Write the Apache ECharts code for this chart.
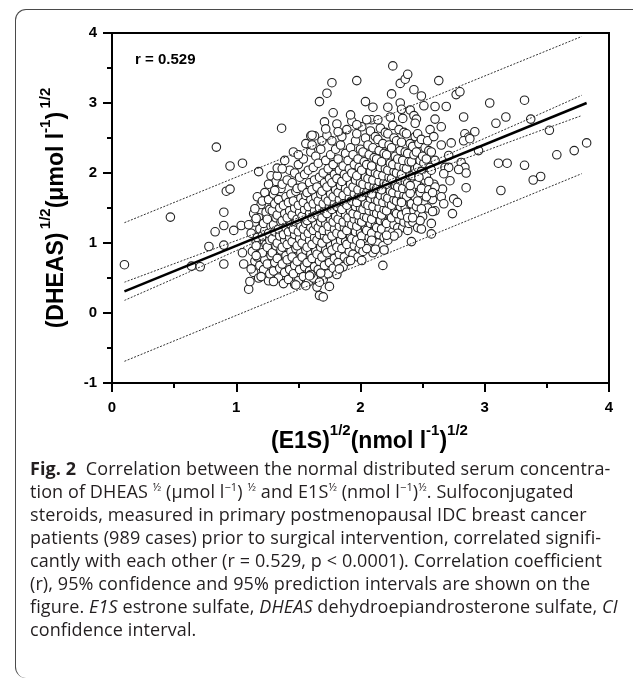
<!DOCTYPE html>
<html>
<head>
<meta charset="utf-8">
<script src="https://cdn.jsdelivr.net/npm/echarts@6/dist/echarts.min.js"></script>
<style>
  body { margin: 0; background: #fff; width: 633px; height: 685px; overflow: hidden; position: relative; }
  #frame { position: absolute; left: 15px; top: 9px; width: 640px; height: 668px;
           border-left: 1.5px solid #4a4a4a; border-top: 1.5px solid #4a4a4a;
           border-radius: 11px 0 0 11px; }
  #main { position: absolute; left: 0; top: 0; width: 633px; height: 458px; }
  #caption { position: absolute; left: 30px; top: 457px; font-family: "Open Sans", sans-serif;
             font-size: 18px; line-height: 23px; color: #231f20; white-space: nowrap; letter-spacing: 0.1px; }
  #caption b { font-weight: 700; }
  #caption sup { font-size: 11px; line-height: 0; }
</style>
</head>
<body>
<div id="frame"></div>
<div id="main"></div>
<div id="caption">
<div><b>Fig. 2</b>&nbsp; Correlation between the normal distributed serum concentra-</div>
<div>tion of DHEAS <sup>½</sup> (μmol l<sup>−1</sup>) <sup>½</sup> and E1S<sup>½</sup> (nmol l<sup>−1</sup>)<sup>½</sup>. Sulfoconjugated</div>
<div>steroids, measured in primary postmenopausal IDC breast cancer</div>
<div>patients (989 cases) prior to surgical intervention, correlated signifi-</div>
<div>cantly with each other (r = 0.529, p &lt; 0.0001). Correlation coefficient</div>
<div>(r), 95% confidence and 95% prediction intervals are shown on the</div>
<div>figure. <i>E1S</i> estrone sulfate, <i>DHEAS</i> dehydroepiandrosterone sulfate, <i>CI</i></div>
<div>confidence interval.</div>
</div>
<script>
// x = sqrt(E1S), y = sqrt(DHEAS)
const xTicks = [0, 1, 2, 3, 4];
const yTicks = [-1, 0, 1, 2, 3, 4];

// isolated points
const leftPoints = [[0.10,0.69],[0.47,1.37],[0.64,0.67],[0.71,0.66],[0.78,0.95],[0.84,2.37],[0.83,1.16],[0.90,1.44],[0.90,1.25],[0.90,0.97],[0.90,0.70],[0.92,1.74],[0.95,1.77],[0.95,2.10],[0.98,1.18],[1.04,1.25],[1.05,2.14],[1.05,0.86],[1.06,0.70],[1.10,1.26],[1.10,0.34],[1.11,0.45],[1.12,0.63],[1.15,1.49],[1.16,1.35],[1.16,0.96],[1.16,0.82],[1.18,2.02],[1.20,0.52],[1.26,1.84],[1.30,0.45],[1.31,1.75],[1.33,2.07],[1.37,2.06],[1.365,2.64],[1.47,0.41],[1.50,2.26]];
const topPoints = [[1.60,2.53],[1.63,2.53],[1.67,3.02],[1.73,3.14],[1.77,3.29],[1.97,3.32],[2.04,3.02],[2.10,2.94],[2.22,2.94],[2.25,3.13],[2.26,3.53],[2.32,3.28],[2.36,3.34],[2.38,3.41],[2.32,3.00],[2.33,2.91],[2.40,2.90],[2.43,3.19],[2.49,3.10],[2.51,2.96],[2.60,2.95],[2.63,3.32],[2.69,2.95],[2.77,3.12],[2.80,3.16],[1.78,2.86],[1.92,2.83],[2.05,2.76],[2.14,2.76],[1.71,2.73],[1.72,2.63],[1.82,2.59],[1.97,2.69],[1.61,2.54],[2.43,2.82],[2.45,2.77],[2.44,2.71],[2.60,2.77],[2.65,2.66]];
const rightPoints = [[2.83,2.80],[3.04,3.00],[3.32,3.04],[3.09,2.71],[3.17,2.80],[3.37,2.77],[3.52,2.61],[2.92,2.59],[2.84,2.56],[2.87,2.51],[2.83,2.46],[2.88,2.49],[2.73,2.43],[2.65,2.40],[2.95,2.32],[2.71,2.25],[3.58,2.26],[3.72,2.32],[3.82,2.43],[3.11,2.14],[3.18,2.14],[3.32,2.11],[2.81,2.15],[2.84,2.08],[2.85,2.00],[2.68,2.08],[2.71,2.08],[2.79,2.05],[3.45,1.95],[3.39,1.90],[3.13,1.75],[2.85,1.79],[2.72,1.89],[2.66,1.77],[2.65,1.66],[2.67,1.56],[2.75,1.63],[2.78,1.58],[2.74,1.42],[2.60,1.80],[2.60,1.46],[2.67,1.99]];
const bottomPoints = [[1.56,0.39],[1.65,0.37],[1.67,0.25],[1.70,0.23],[1.75,0.38],[1.60,0.55],[1.68,0.57],[1.67,0.44],[1.81,0.55],[1.83,0.63],[1.92,0.75],[2.01,0.75],[2.18,0.68],[2.19,0.90],[2.41,1.02],[2.57,1.13],[2.30,1.14],[2.27,1.10],[2.49,1.20],[2.57,1.28],[2.48,1.32],[2.38,1.36],[2.42,1.36],[2.49,1.49],[2.58,1.45],[2.53,1.66],[2.46,1.60],[2.33,1.58],[2.40,1.71],[2.40,1.82],[2.55,1.88],[2.47,1.94],[2.58,1.72],[2.05,0.92],[2.09,1.04],[2.12,0.91],[2.21,1.11],[2.00,0.99],[1.48,0.40],[1.59,0.53]];

// dense middle of the cloud (estimated)
const coreLow = [
[1.14,0.58],[1.15,0.74],[1.13,0.88],[1.16,1.02],[1.12,1.14],[1.15,1.30],[1.14,1.42],
[1.18,0.50],[1.19,0.68],[1.17,0.80],[1.20,0.93],[1.17,1.08],[1.19,1.20],[1.18,1.36],[1.20,1.55],[1.17,1.66],
[1.22,0.62],[1.23,0.76],[1.21,0.86],[1.24,0.98],[1.21,1.10],[1.23,1.18],[1.22,1.28],[1.24,1.44],[1.21,1.60],[1.23,1.72],
[1.26,0.46],[1.27,0.56],[1.25,0.70],[1.28,0.82],[1.25,0.94],[1.27,1.04],[1.26,1.14],[1.28,1.24],[1.25,1.34],[1.27,1.48],[1.26,1.62],[1.28,1.96],
[1.30,0.60],[1.31,0.72],[1.29,0.86],[1.32,0.96],[1.29,1.06],[1.31,1.16],[1.30,1.26],[1.32,1.36],[1.29,1.46],[1.31,1.56],[1.30,1.70],[1.32,1.88],
[1.34,0.50],[1.35,0.64],[1.33,0.78],[1.36,0.90],[1.33,1.00],[1.35,1.10],[1.34,1.20],[1.36,1.30],[1.33,1.40],[1.35,1.50],[1.34,1.62],[1.36,1.78],[1.33,1.96],
[1.38,0.42],[1.39,0.58],[1.37,0.70],[1.40,0.82],[1.37,0.94],[1.39,1.04],[1.38,1.12],[1.40,1.22],[1.37,1.32],[1.39,1.42],[1.38,1.54],[1.40,1.66],[1.37,1.84],[1.39,2.18],
[1.42,0.48],[1.43,0.62],[1.41,0.76],[1.44,0.88],[1.41,0.98],[1.43,1.08],[1.42,1.16],[1.44,1.26],[1.41,1.36],[1.43,1.46],[1.42,1.58],[1.44,1.70],[1.41,1.90],[1.43,2.04],
[1.46,0.56],[1.47,0.68],[1.45,0.80],[1.48,0.92],[1.45,1.02],[1.47,1.12],[1.46,1.20],[1.48,1.30],[1.45,1.40],[1.47,1.50],[1.46,1.60],[1.48,1.74],[1.45,1.86],[1.47,2.00],[1.46,2.30],
[1.50,0.46],[1.51,0.62],[1.49,0.74],[1.52,0.86],[1.49,0.96],[1.51,1.06],[1.50,1.16],[1.52,1.24],[1.49,1.34],[1.51,1.44],[1.50,1.54],[1.52,1.64],[1.49,1.78],[1.51,1.94],[1.50,2.12],
[1.54,0.52],[1.55,0.66],[1.53,0.80],[1.56,0.90],[1.53,1.00],[1.55,1.10],[1.54,1.20],[1.56,1.28],[1.53,1.38],[1.55,1.48],[1.54,1.58],[1.56,1.68],[1.53,1.80],[1.55,1.98],[1.54,2.20],[1.56,2.42],
[1.58,0.44],[1.59,0.60],[1.57,0.72],[1.60,0.84],[1.57,0.94],[1.59,1.04],[1.58,1.14],[1.60,1.22],[1.57,1.32],[1.59,1.42],[1.58,1.52],[1.60,1.62],[1.57,1.72],[1.59,1.86],[1.58,2.04],[1.60,2.30]
];
const coreMid = [
[1.62,0.50],[1.63,0.66],[1.61,0.78],[1.64,0.88],[1.61,0.98],[1.63,1.08],[1.62,1.18],[1.64,1.26],[1.61,1.36],[1.63,1.46],[1.62,1.56],[1.64,1.66],[1.61,1.76],[1.63,1.90],[1.62,2.08],[1.64,2.24],[1.61,2.40],
[1.66,0.62],[1.67,0.74],[1.65,0.84],[1.68,0.94],[1.65,1.04],[1.67,1.12],[1.66,1.22],[1.68,1.30],[1.65,1.40],[1.67,1.50],[1.66,1.60],[1.68,1.70],[1.65,1.80],[1.67,1.94],[1.66,2.14],[1.68,2.34],
[1.70,0.48],[1.71,0.68],[1.69,0.80],[1.72,0.90],[1.69,1.00],[1.71,1.10],[1.70,1.18],[1.72,1.28],[1.69,1.36],[1.71,1.46],[1.70,1.56],[1.72,1.64],[1.69,1.74],[1.71,1.86],[1.70,2.00],[1.72,2.18],[1.69,2.46],
[1.74,0.56],[1.75,0.72],[1.73,0.86],[1.76,0.96],[1.73,1.06],[1.75,1.16],[1.74,1.24],[1.76,1.34],[1.73,1.42],[1.75,1.52],[1.74,1.60],[1.76,1.70],[1.73,1.80],[1.75,1.92],[1.74,2.06],[1.76,2.26],[1.73,2.54],
[1.78,0.64],[1.79,0.78],[1.77,0.90],[1.80,1.00],[1.77,1.10],[1.79,1.20],[1.78,1.30],[1.80,1.38],[1.77,1.48],[1.79,1.56],[1.78,1.66],[1.80,1.76],[1.77,1.86],[1.79,1.98],[1.78,2.12],[1.80,2.34],[1.77,2.46],
[1.82,0.72],[1.83,0.84],[1.81,0.94],[1.84,1.04],[1.81,1.14],[1.83,1.24],[1.82,1.34],[1.84,1.44],[1.81,1.52],[1.83,1.62],[1.82,1.72],[1.84,1.82],[1.81,1.92],[1.83,2.04],[1.82,2.20],[1.84,2.40],[1.81,2.70],
[1.86,0.66],[1.87,0.80],[1.85,0.92],[1.88,1.02],[1.85,1.12],[1.87,1.22],[1.86,1.30],[1.88,1.40],[1.85,1.48],[1.87,1.58],[1.86,1.68],[1.88,1.78],[1.85,1.88],[1.87,1.98],[1.86,2.10],[1.88,2.28],[1.85,2.52],
[1.90,0.74],[1.91,0.88],[1.89,0.98],[1.92,1.08],[1.89,1.18],[1.91,1.28],[1.90,1.36],[1.92,1.46],[1.89,1.54],[1.91,1.64],[1.90,1.74],[1.92,1.84],[1.89,1.94],[1.91,2.06],[1.90,2.18],[1.92,2.36],[1.89,2.62],
[1.94,0.84],[1.95,0.96],[1.93,1.06],[1.96,1.16],[1.93,1.26],[1.95,1.34],[1.94,1.42],[1.96,1.52],[1.93,1.60],[1.95,1.70],[1.94,1.80],[1.96,1.90],[1.93,2.00],[1.95,2.12],[1.94,2.26],[1.96,2.46],[1.93,2.74],
[1.98,0.80],[1.99,0.92],[1.97,1.04],[2.00,1.14],[1.97,1.24],[1.99,1.32],[1.98,1.40],[2.00,1.50],[1.97,1.58],[1.99,1.68],[1.98,1.76],[2.00,1.86],[1.97,1.96],[1.99,2.08],[1.98,2.20],[2.00,2.34],[1.97,2.56],
[2.02,0.88],[2.03,1.00],[2.01,1.10],[2.04,1.20],[2.01,1.30],[2.03,1.38],[2.02,1.48],[2.04,1.56],[2.01,1.66],[2.03,1.74],[2.02,1.84],[2.04,1.94],[2.01,2.04],[2.03,2.16],[2.02,2.30],[2.04,2.50],[2.01,2.66],
[2.06,0.96],[2.07,1.08],[2.05,1.18],[2.08,1.28],[2.05,1.36],[2.07,1.46],[2.06,1.54],[2.08,1.64],[2.05,1.72],[2.07,1.82],[2.06,1.92],[2.08,2.02],[2.05,2.12],[2.07,2.26],[2.06,2.40],[2.08,2.60]
];
const coreHigh = [
[2.10,0.86],[2.11,1.02],[2.09,1.14],[2.12,1.24],[2.09,1.34],[2.11,1.44],[2.10,1.52],[2.12,1.62],[2.09,1.70],[2.11,1.80],[2.10,1.90],[2.12,2.00],[2.09,2.10],[2.11,2.22],[2.10,2.36],[2.12,2.52],[2.09,2.76],
[2.14,1.00],[2.15,1.12],[2.13,1.22],[2.16,1.32],[2.13,1.42],[2.15,1.50],[2.14,1.60],[2.16,1.68],[2.13,1.78],[2.15,1.88],[2.14,1.98],[2.16,2.08],[2.13,2.20],[2.15,2.32],[2.14,2.48],[2.16,2.64],
[2.18,0.96],[2.19,1.08],[2.17,1.20],[2.20,1.30],[2.17,1.40],[2.19,1.48],[2.18,1.58],[2.20,1.66],[2.17,1.76],[2.19,1.86],[2.18,1.96],[2.20,2.06],[2.17,2.16],[2.19,2.28],[2.18,2.42],[2.20,2.58],
[2.22,1.04],[2.23,1.18],[2.21,1.28],[2.24,1.38],[2.21,1.46],[2.23,1.56],[2.22,1.64],[2.24,1.74],[2.21,1.84],[2.23,1.94],[2.22,2.04],[2.24,2.14],[2.21,2.26],[2.23,2.40],[2.22,2.56],[2.24,2.80],
[2.26,1.16],[2.27,1.26],[2.25,1.36],[2.28,1.44],[2.25,1.54],[2.27,1.62],[2.26,1.72],[2.28,1.82],[2.25,1.92],[2.27,2.02],[2.26,2.12],[2.28,2.24],[2.25,2.36],[2.27,2.50],[2.26,2.68],
[2.30,1.22],[2.31,1.34],[2.29,1.42],[2.32,1.52],[2.29,1.60],[2.31,1.70],[2.30,1.80],[2.32,1.90],[2.29,2.00],[2.31,2.10],[2.30,2.20],[2.32,2.32],[2.29,2.46],[2.31,2.62],
[2.34,1.22],[2.35,1.30],[2.33,1.40],[2.36,1.50],[2.33,1.60],[2.35,1.68],[2.34,1.78],[2.36,1.88],[2.33,1.98],[2.35,2.08],[2.34,2.18],[2.36,2.30],[2.33,2.44],[2.35,2.58],[2.34,2.78],
[2.38,1.18],[2.39,1.28],[2.37,1.44],[2.40,1.56],[2.37,1.66],[2.39,1.76],[2.38,1.86],[2.40,1.96],[2.37,2.06],[2.39,2.16],[2.38,2.28],[2.40,2.42],[2.37,2.56],
[2.42,1.30],[2.43,1.46],[2.41,1.56],[2.44,1.66],[2.41,1.76],[2.43,1.86],[2.42,1.96],[2.44,2.06],[2.41,2.16],[2.43,2.26],[2.42,2.38],[2.44,2.52],
[2.46,1.22],[2.47,1.42],[2.45,1.52],[2.48,1.72],[2.45,1.84],[2.47,1.98],[2.46,2.08],[2.48,2.18],[2.45,2.30],[2.47,2.42],[2.46,2.56],
[2.50,1.38],[2.51,1.56],[2.49,1.78],[2.52,1.90],[2.49,2.02],[2.51,2.14],[2.50,2.24],[2.52,2.36],[2.49,2.48],
[2.54,1.50],[2.55,1.76],[2.53,1.96],[2.56,2.08],[2.53,2.20],[2.55,2.32],[2.54,2.46],[2.56,2.62],
[2.58,1.62],[2.59,1.84],[2.57,2.04],[2.60,2.18],[2.57,2.30],[2.59,2.52]
];

// regression line, 95% confidence and 95% prediction bands
const fitLine = [[0.10,0.31],[3.82,3.00]];
const ciUpper = [[0.10,0.44],[0.60,0.77],[1.10,1.10],[1.50,1.36],[1.90,1.64],[2.30,1.95],[2.80,2.34],[3.30,2.73],[3.78,3.11]];
const ciLower = [[0.10,0.18],[0.60,0.57],[1.10,0.97],[1.50,1.28],[1.90,1.58],[2.30,1.86],[2.80,2.18],[3.30,2.51],[3.78,2.82]];
const piUpper = [[0.10,1.29],[3.78,3.95]];
const piLower = [[0.10,-0.69],[3.78,1.99]];

const allPoints = [].concat(coreLow, coreMid, coreHigh, leftPoints, topPoints, rightPoints, bottomPoints);

const font = 'Liberation Sans, Arial, sans-serif';
const titleRich = {
  b: { fontSize: 23, fontWeight: 'bold', fontFamily: font, color: '#000', lineHeight: 30, verticalAlign: 'bottom' },
  s: { fontSize: 15, fontWeight: 'bold', fontFamily: font, color: '#000', lineHeight: 30, verticalAlign: 'top' }
};

const chart = echarts.init(document.getElementById('main'));
const dotted = { color: '#333', width: 1, type: [2, 1.5] };

chart.setOption({
  animation: false,
  grid: { left: 112, top: 33, width: 497, height: 350, outerBoundsMode: 'none', containLabel: false,
          show: true, borderColor: '#000', borderWidth: 2, backgroundColor: 'transparent' },
  xAxis: {
    type: 'value', min: xTicks[0], max: xTicks[xTicks.length - 1], interval: 1,
    name: '{b|(E1S)}{s|1/2}{b|(nmol l}{s|-1}{b|)}{s|1/2}',
    nameLocation: 'middle', nameGap: 40,
    nameTextStyle: { rich: titleRich, padding: [0, 0, 0, 18] },
    axisLine: { onZero: false, lineStyle: { color: '#000', width: 2 } },
    axisTick: { length: 9, lineStyle: { color: '#000', width: 2 } },
    minorTick: { show: true, splitNumber: 2, length: 5, lineStyle: { color: '#000', width: 2 } },
    splitLine: { show: false },
    axisLabel: { margin: 17, color: '#000', fontSize: 15, fontWeight: 'bold', fontFamily: font }
  },
  yAxis: {
    type: 'value', min: yTicks[0], max: yTicks[yTicks.length - 1], interval: 1,
    name: '{b|(DHEAS)} {s|1/2}{b|(μmol l}{s|-1}{b|)} {s|1/2}',
    nameLocation: 'middle', nameGap: 44, nameRotate: 90,
    nameTextStyle: { rich: titleRich },
    axisLine: { onZero: false, lineStyle: { color: '#000', width: 2 } },
    axisTick: { length: 9, lineStyle: { color: '#000', width: 2 } },
    minorTick: { show: true, splitNumber: 2, length: 5, lineStyle: { color: '#000', width: 2 } },
    splitLine: { show: false },
    axisLabel: { margin: 15, color: '#000', fontSize: 15, fontWeight: 'bold', fontFamily: font }
  },
  graphic: [{
    type: 'text', left: 135, top: 52, z: 100,
    style: { text: 'r = 0.529', fontSize: 15, fontWeight: 'bold', fontFamily: font, fill: '#000' }
  }],
  series: [
    {
      type: 'scatter', data: allPoints, symbol: 'circle', symbolSize: 8.5, z: 2,
      itemStyle: { color: '#fff', borderColor: '#222', borderWidth: 1.1, opacity: 1 }
    },
    { type: 'line', data: piUpper, showSymbol: false, z: 5, lineStyle: dotted },
    { type: 'line', data: piLower, showSymbol: false, z: 5, lineStyle: dotted },
    { type: 'line', data: ciUpper, showSymbol: false, z: 5, smooth: 0.3, lineStyle: dotted },
    { type: 'line', data: ciLower, showSymbol: false, z: 5, smooth: 0.3, lineStyle: dotted },
    { type: 'line', data: fitLine, showSymbol: false, z: 6, lineStyle: { color: '#000', width: 2.5 } }
  ]
});
</script>
</body>
</html>
